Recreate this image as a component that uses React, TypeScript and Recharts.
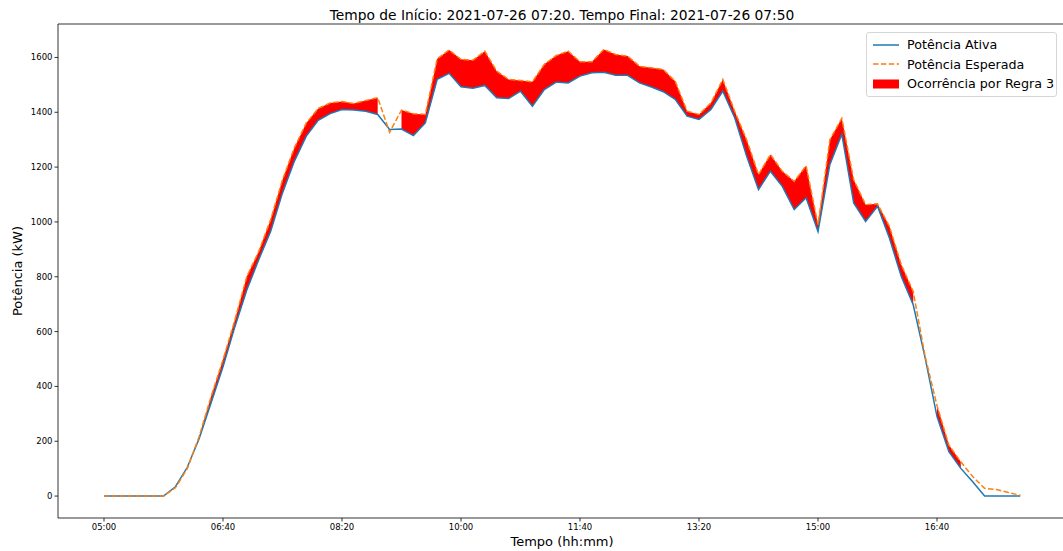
import { ComposedChart, Line, Area, XAxis, YAxis, ReferenceLine } from "recharts";

// minutos desde 05:00, passo de 10 min
const INICIO_MIN = 5 * 60;
const PASSO_MIN = 10;

const ATIVA = [
  0, 0, 0, 0, 0, 0, 34, 105, 210, 340,
  472, 618, 752, 862, 965, 1106, 1222, 1313, 1371, 1395,
  1410, 1408, 1404, 1392, 1337, 1339, 1315, 1361, 1520, 1542,
  1493, 1488, 1498, 1453, 1450, 1477, 1422, 1483, 1510, 1507,
  1532, 1544, 1546, 1535, 1535, 1507, 1492, 1475, 1447, 1386,
  1374, 1410, 1477, 1380, 1240, 1118, 1185, 1130, 1045, 1088,
  965, 1210, 1320, 1069, 1002, 1057, 941, 801, 698, 505,
  290, 162, 101, 52, 0, 0, 0, 0,
];

const ESPERADA = [
  0, 0, 0, 0, 0, 0, 30, 100, 218, 363,
  497, 643, 801, 892, 1008, 1154, 1271, 1361, 1414, 1434,
  1439, 1432, 1443, 1453, 1327, 1408, 1395, 1392, 1595, 1627,
  1593, 1590, 1623, 1550, 1520, 1516, 1511, 1575, 1607, 1623,
  1584, 1584, 1629, 1611, 1605, 1568, 1562, 1556, 1513, 1404,
  1392, 1434, 1520, 1404, 1300, 1173, 1246, 1185, 1148, 1205,
  990, 1300, 1378, 1154, 1063, 1066, 984, 844, 746, 510,
  330, 186, 125, 71, 28, 24, 13, 3,
];

// 1 = ocorrência pela regra 3
const REGRA3 = [
  0, 0, 0, 0, 0, 0, 0, 0, 1, 1,
  1, 1, 1, 1, 1, 1, 1, 1, 1, 1,
  1, 1, 1, 1, 0, 1, 1, 1, 1, 1,
  1, 1, 1, 1, 1, 1, 1, 1, 1, 1,
  1, 1, 1, 1, 1, 1, 1, 1, 1, 1,
  1, 1, 1, 1, 1, 1, 1, 1, 1, 1,
  1, 1, 1, 1, 1, 1, 1, 1, 1, 0,
  1, 1, 1, 0, 0, 0, 0, 0,
];

const X_TICKS = [0, 100, 200, 300, 400, 500, 600, 700];
const Y_TICKS = [0, 200, 400, 600, 800, 1000, 1200, 1400, 1600];
const X_DOMAIN: [number, number] = [-38.66, 808.4];
const Y_DOMAIN: [number, number] = [-80, 1722];

const data = ATIVA.map((a, i) => ({
  t: i * PASSO_MIN,
  ativa: a,
  esperada: ESPERADA[i],
  faixa: REGRA3[i] ? [a, ESPERADA[i]] : null,
}));

const fmtHora = (m: number) => {
  const total = INICIO_MIN + m;
  const h = Math.floor(total / 60);
  const mm = total % 60;
  return `${String(h).padStart(2, "0")}:${String(mm).padStart(2, "0")}`;
};

const FONT = '"DejaVu Sans", sans-serif';
const tickStyle = { fill: "#000", fontSize: 8.5, fontFamily: FONT };

const LEGENDA = [
  { nome: "Potência Ativa", tipo: "solid" },
  { nome: "Potência Esperada", tipo: "dash" },
  { nome: "Ocorrência por Regra 3", tipo: "rect" },
];

export default function App() {
  return (
    <div
      style={{
        position: "absolute",
        left: 0,
        top: 0,
        width: 1063,
        height: 551,
        overflow: "hidden",
        background: "#fff",
        fontFamily: FONT,
        color: "#000",
      }}
    >
      <ComposedChart
        width={1070}
        height={551}
        data={data}
        margin={{ top: 24, right: 4, bottom: 0, left: 0 }}
      >
        <XAxis
          dataKey="t"
          type="number"
          domain={X_DOMAIN}
          ticks={X_TICKS}
          tickFormatter={fmtHora}
          allowDataOverflow
          height={33}
          tick={tickStyle}
          tickSize={3.5}
          tickLine={{ stroke: "#000", strokeWidth: 0.8 }}
          axisLine={{ stroke: "#000", strokeWidth: 0.8 }}
        />
        <YAxis
          type="number"
          domain={Y_DOMAIN}
          ticks={Y_TICKS}
          allowDataOverflow
          width={58}
          tick={tickStyle}
          tickSize={3.5}
          tickLine={{ stroke: "#000", strokeWidth: 0.8 }}
          axisLine={{ stroke: "#000", strokeWidth: 0.8 }}
        />
        <ReferenceLine y={Y_DOMAIN[1]} stroke="#000" strokeWidth={0.8} ifOverflow="extendDomain" />
        <Area
          dataKey="faixa"
          stroke="none"
          fill="#ff0000"
          fillOpacity={1}
          connectNulls={false}
          isAnimationActive={false}
          activeDot={false}
          dot={false}
        />
        <Line
          dataKey="ativa"
          stroke="#1f77b4"
          strokeWidth={1.5}
          dot={false}
          activeDot={false}
          type="linear"
          isAnimationActive={false}
        />
        <Line
          dataKey="esperada"
          stroke="#ff7f0e"
          strokeWidth={1.5}
          strokeDasharray="5.5 2.4"
          dot={false}
          activeDot={false}
          type="linear"
          isAnimationActive={false}
        />
      </ComposedChart>

      <div
        style={{
          position: "absolute",
          left: 58,
          width: 1008,
          top: 7,
          textAlign: "center",
          fontSize: 13.8,
          lineHeight: "17px",
          whiteSpace: "nowrap",
        }}
      >
        Tempo de Início: 2021-07-26 07:20. Tempo Final: 2021-07-26 07:50
      </div>

      <div
        style={{
          position: "absolute",
          left: 58,
          width: 1008,
          top: 534,
          textAlign: "center",
          fontSize: 13,
          lineHeight: "16px",
        }}
      >
        Tempo (hh:mm)
      </div>

      <div
        style={{
          position: "absolute",
          left: 18 - 100,
          top: 271 - 8,
          width: 200,
          textAlign: "center",
          fontSize: 13,
          lineHeight: "16px",
          transform: "rotate(-90deg)",
        }}
      >
        Potência (kW)
      </div>

      <div
        style={{
          position: "absolute",
          left: 866,
          top: 32,
          width: 191,
          height: 65,
          boxSizing: "border-box",
          border: "1px solid #d6d6d6",
          borderRadius: 3,
          background: "rgba(255,255,255,0.8)",
          fontSize: 12.7,
          padding: "2px 0 0 6px",
          whiteSpace: "nowrap",
        }}
      >
        {LEGENDA.map((e) => (
          <div key={e.nome} style={{ display: "flex", alignItems: "center", height: 19.5 }}>
            <svg width={26} height={12} style={{ marginRight: 8, flex: "none" }}>
              {e.tipo === "solid" && <line x1={0} y1={6} x2={26} y2={6} stroke="#1f77b4" strokeWidth={1.5} />}
              {e.tipo === "dash" && (
                <line x1={0} y1={6} x2={26} y2={6} stroke="#ff7f0e" strokeWidth={1.5} strokeDasharray="5.5 2.4" />
              )}
              {e.tipo === "rect" && <rect x={0} y={1.5} width={26} height={9} fill="#ff0000" />}
            </svg>
            <span>{e.nome}</span>
          </div>
        ))}
      </div>
    </div>
  );
}
